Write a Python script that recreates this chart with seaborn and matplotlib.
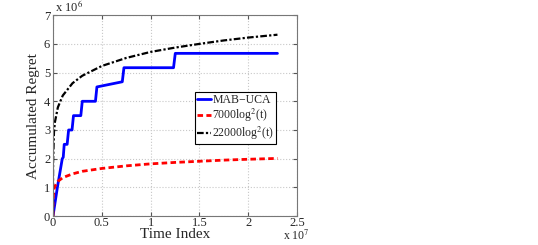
import matplotlib
matplotlib.use("Agg")
import matplotlib.pyplot as plt
import seaborn as sns
import pandas as pd
from matplotlib.ticker import FuncFormatter, MultipleLocator

# Data
mab_t = [0, 0.45e6, 0.95e6, 1.05e6, 1.15e6, 1.45e6, 1.6e6, 1.95e6, 2.1e6, 2.85e6,
         3.0e6, 4.35e6, 4.5e6, 7.1e6, 7.27e6, 12.35e6, 12.53e6, 23.0e6]
mab_y = [0, 1.0e6, 2.0e6, 2.05e6, 2.5e6, 2.5e6, 3.0e6, 3.0e6, 3.5e6, 3.5e6,
         4.0e6, 4.0e6, 4.5e6, 4.68e6, 5.17e6, 5.17e6, 5.67e6, 5.67e6]

curve_t = [0, 1e3, 1e4, 1e5, 2e5, 5e5, 1e6, 2e6, 3e6, 5e6, 7.5e6, 1e7, 1.25e7,
           1.5e7, 1.75e7, 2e7, 2.3e7]
low_y = [0, 0.33e6, 0.594e6, 0.93e6, 1.04e6, 1.21e6, 1.34e6, 1.47e6, 1.56e6, 1.66e6,
         1.75e6, 1.82e6, 1.87e6, 1.91e6, 1.95e6, 1.98e6, 2.01e6]
high_y = [0, 1.05e6, 1.87e6, 2.92e6, 3.28e6, 3.79e6, 4.2e6, 4.63e6, 4.89e6, 5.23e6,
          5.51e6, 5.72e6, 5.87e6, 6.0e6, 6.12e6, 6.22e6, 6.32e6]

labels = ["MAB\u2212UCA", "7000log$^2$(t)", "22000log$^2$(t)"]

sns.set_style("white")
plt.rcParams['font.family'] = ['Liberation Serif', 'DejaVu Serif']
plt.rcParams['mathtext.fontset'] = 'stix'

fig = plt.figure(figsize=(5.38, 2.45), dpi=100)
ax = fig.add_axes([0.0985, 0.118, 0.4535, 0.82])

df_mab = pd.DataFrame({"t": mab_t, "y": mab_y})
df_low = pd.DataFrame({"t": curve_t, "y": low_y})
df_high = pd.DataFrame({"t": curve_t, "y": high_y})

sns.lineplot(data=df_mab, x="t", y="y", ax=ax, color="#0000ff", lw=2.0,
             label=labels[0], sort=False, estimator=None)
sns.lineplot(data=df_low, x="t", y="y", ax=ax, color="#ff0000", lw=2.0,
             linestyle=(0, (2, 1.2)), label=labels[1], sort=False, estimator=None)
sns.lineplot(data=df_high, x="t", y="y", ax=ax, color="black", lw=1.6,
             linestyle=(0, (3, 1, 1, 1)), label=labels[2], sort=False, estimator=None)

ax.set_xlim(0, 2.5e7)
ax.set_ylim(0, 7e6)
ax.xaxis.set_major_locator(MultipleLocator(0.5e7))
ax.yaxis.set_major_locator(MultipleLocator(1e6))
ax.xaxis.set_major_formatter(FuncFormatter(lambda v, p: f"{v/1e7:g}"))
ax.yaxis.set_major_formatter(FuncFormatter(lambda v, p: f"{v/1e6:g}"))
ax.tick_params(direction="in", length=3, labelsize=9, pad=1, color="#555555",
               top=True, right=True, bottom=True, left=True)
ax.tick_params(axis="y", pad=2)
ax.grid(True, linestyle=":", color="#c8c8c8", lw=0.8)
for s in ax.spines.values():
    s.set_color("#777777")
    s.set_linewidth(0.8)

ax.set_xlabel("Time Index", fontsize=11, labelpad=-1)
ax.set_ylabel("Accumulated Regret", fontsize=11, labelpad=3)

ax.text(0.01, 1.0, "x 10$^6$", transform=ax.transAxes, fontsize=9,
        ha="left", va="bottom")
ax.text(0.995, -0.065, "x 10$^7$", transform=ax.transAxes, fontsize=8.5,
        ha="center", va="top")

leg = ax.legend(loc="upper left", bbox_to_anchor=(0.58, 0.62), fontsize=8.5,
                handlelength=1.2, handletextpad=0.1, borderpad=0.2,
                labelspacing=0.05, borderaxespad=0, fancybox=False,
                framealpha=1, edgecolor="black")
leg.get_frame().set_linewidth(0.8)

fig.savefig("out.png", dpi=100)
